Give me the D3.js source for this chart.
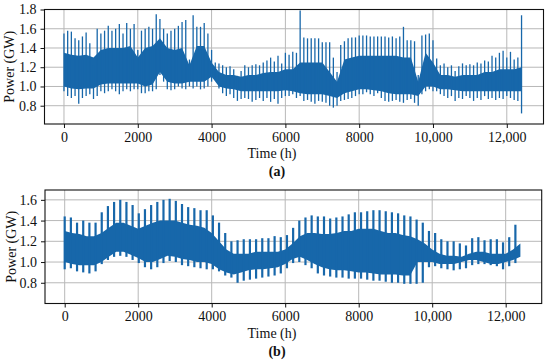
<!DOCTYPE html>
<html><head><meta charset="utf-8">
<script src="https://cdn.jsdelivr.net/npm/d3@7"></script>
<style>body{margin:0;background:#fff}svg{display:block}text{font-family:'Liberation Serif','Times New Roman',serif}</style>
</head><body>
<script>
// sampling steps (h) of the envelope arrays
const stepA = 100, stepB = 168, stepCore = 200;
const xTicks = [0, 2000, 4000, 6000, 8000, 10000, 12000];
const xTickLabels = ["0", "2000", "4000", "6000", "8000", "10,000", "12,000"];
const yTicksA = [0.8, 1.0, 1.2, 1.4, 1.6, 1.8];
const yTicksB = [0.8, 1.0, 1.2, 1.4, 1.6];

// panel (a): max / min per 100 h
const aMax = [1.55,1.58,1.57,1.50,1.48,1.52,1.56,1.45,1.22,1.60,
  1.55,1.58,1.63,1.58,1.60,1.65,1.55,1.66,1.60,1.65,
  1.38,1.58,1.60,1.62,1.60,1.75,1.70,1.60,1.55,1.58,
  1.60,1.63,1.67,1.69,1.28,1.74,1.62,1.62,1.66,1.55,
  1.38,1.25,1.24,1.22,1.20,1.21,1.18,1.11,1.16,1.22,
  1.20,1.22,1.23,1.22,1.25,1.27,1.30,1.26,1.32,1.24,
  1.35,1.33,1.36,1.35,1.79,1.51,1.50,1.50,1.50,1.50,
  1.46,1.46,1.46,1.30,1.15,1.43,1.47,1.50,1.51,1.51,
  1.53,1.53,1.53,1.52,1.52,1.52,1.52,1.52,1.51,1.52,
  1.50,1.52,1.62,1.48,1.48,1.47,1.12,1.53,1.54,1.55,
  1.48,1.29,1.22,1.24,1.20,1.22,1.16,1.21,1.24,1.22,
  1.23,1.22,1.25,1.24,1.27,1.26,1.32,1.30,1.35,1.37,
  1.30,1.36,1.28,1.30,1.74];
const aMin = [0.95,0.90,0.88,0.90,0.82,0.88,0.90,0.92,0.87,0.90,
  0.95,0.93,0.95,0.97,0.95,0.92,0.95,0.97,0.95,0.97,
  0.97,0.93,0.93,0.95,0.95,0.97,1.12,1.05,0.97,0.96,
  0.97,1.00,0.98,0.97,1.00,0.98,1.00,0.97,0.98,1.00,
  1.05,1.08,0.98,0.93,0.90,0.92,0.88,0.85,0.87,0.88,
  0.87,0.84,0.86,0.88,0.85,0.88,0.84,0.87,0.82,0.88,
  0.90,0.90,0.92,0.88,0.90,0.85,0.86,0.84,0.82,0.85,
  0.84,0.83,0.80,0.78,0.80,0.85,0.86,0.87,0.88,0.90,
  0.92,0.92,0.94,0.92,0.90,0.93,0.88,0.85,0.84,0.85,
  0.86,0.84,0.83,0.86,0.87,0.83,0.80,0.92,0.95,0.97,
  0.95,0.95,0.92,0.90,0.88,0.90,0.85,0.88,0.87,0.90,
  0.88,0.85,0.88,0.86,0.90,0.87,0.88,0.86,0.88,0.87,
  0.90,0.88,0.86,0.85,0.72];
// panel (a): dense core band per 200 h
const aCoreTop = [1.35,1.33,1.32,1.33,1.30,1.38,1.40,1.40,1.40,1.42,
  1.30,1.40,1.42,1.50,1.40,1.38,1.40,1.22,1.42,1.42,
  1.25,1.15,1.12,1.12,1.10,1.12,1.12,1.14,1.15,1.15,
  1.18,1.18,1.25,1.25,1.25,1.25,1.15,1.05,1.28,1.30,
  1.32,1.32,1.32,1.32,1.32,1.32,1.30,1.30,1.05,1.35,
  1.25,1.12,1.12,1.10,1.12,1.12,1.12,1.15,1.15,1.18,
  1.18,1.18,1.20];
const aCoreLow = [1.00,0.98,0.97,0.98,0.98,1.02,1.03,1.03,1.03,1.03,
  1.03,1.00,1.02,1.15,1.05,1.03,1.03,1.05,1.05,1.05,
  1.10,1.00,0.98,0.97,0.95,0.95,0.95,0.95,0.95,0.95,
  0.96,0.95,0.93,0.92,0.92,0.92,0.90,0.88,0.93,0.95,
  0.97,0.97,0.96,0.95,0.93,0.92,0.92,0.92,0.90,1.00,
  1.00,0.97,0.97,0.96,0.95,0.95,0.95,0.95,0.95,0.95,
  0.95,0.95,0.95];

// panel (b): weekly peak / trough (every 168 h)
const bMax = [1.44,1.43,1.38,1.40,1.38,1.38,1.48,1.54,1.58,1.60,
  1.58,1.55,1.47,1.51,1.55,1.58,1.60,1.61,1.59,1.56,
  1.53,1.52,1.50,1.50,1.45,1.38,1.28,1.20,1.21,1.22,
  1.22,1.22,1.23,1.23,1.25,1.24,1.26,1.33,1.40,1.43,
  1.45,1.44,1.44,1.42,1.43,1.44,1.46,1.48,1.48,1.49,
  1.50,1.50,1.49,1.48,1.47,1.45,1.44,1.41,1.38,1.30,
  1.28,1.22,1.20,1.20,1.18,1.16,1.23,1.24,1.21,1.22,
  1.22,1.19,1.24,1.36];
const bMin = [0.93,0.94,0.91,0.90,0.89,0.91,0.98,1.02,1.05,1.06,
  1.05,1.02,0.99,0.95,0.93,0.95,0.99,1.01,1.00,0.97,
  0.96,0.95,0.94,0.93,0.93,0.91,0.87,0.85,0.80,0.82,
  0.83,0.84,0.85,0.86,0.87,0.89,0.94,0.99,1.00,0.97,
  0.94,0.89,0.87,0.86,0.85,0.85,0.84,0.84,0.84,0.83,
  0.82,0.82,0.81,0.80,0.80,0.79,0.79,0.79,0.80,0.95,
  0.96,0.94,0.93,0.92,0.93,0.94,0.97,0.98,0.98,0.97,
  0.96,0.93,0.96,0.99];
// panel (b): dense core band per 200 h
const bCoreTop = [1.30,1.28,1.27,1.25,1.25,1.28,1.33,1.38,1.38,1.35,
  1.32,1.35,1.38,1.40,1.40,1.40,1.38,1.36,1.35,1.33,
  1.28,1.20,1.12,1.08,1.08,1.08,1.10,1.10,1.10,1.10,
  1.12,1.18,1.25,1.28,1.28,1.27,1.27,1.28,1.30,1.30,
  1.32,1.32,1.32,1.30,1.28,1.28,1.26,1.25,1.22,1.18,
  1.12,1.08,1.06,1.06,1.05,1.08,1.10,1.10,1.08,1.08,
  1.08,1.12,1.18];
const bCoreLow = [1.00,0.98,0.97,0.97,0.97,1.00,1.05,1.10,1.10,1.07,
  1.04,1.00,1.00,1.03,1.06,1.05,1.03,1.02,1.00,1.00,
  0.98,0.93,0.90,0.88,0.90,0.92,0.93,0.93,0.94,0.95,
  0.98,1.03,1.05,1.02,0.98,0.95,0.93,0.92,0.92,0.91,
  0.90,0.90,0.89,0.88,0.88,0.88,0.87,0.87,1.00,1.00,
  1.00,0.98,0.98,0.98,1.00,1.02,1.02,1.00,0.98,0.98,
  1.00,1.02,1.05];

const W = 550, H = 363, color = "#1767aa";
const svg = d3.select("body").append("svg").attr("width", W).attr("height", H);

function panel(cfg) {
  const x = d3.scaleLinear().domain(cfg.xDomain).range([cfg.left, cfg.right]);
  const y = d3.scaleLinear().domain(cfg.yDomain).range([cfg.bottom, cfg.top]);
  const g = svg.append("g");
  g.selectAll(".gx").data(xTicks).join("line")
    .attr("x1", d => x(d)).attr("x2", d => x(d)).attr("y1", cfg.top).attr("y2", cfg.bottom)
    .attr("stroke", "#b8b8b8").attr("stroke-width", 1);
  g.selectAll(".gy").data(cfg.yTicks).join("line")
    .attr("y1", d => y(d)).attr("y2", d => y(d)).attr("x1", cfg.left).attr("x2", cfg.right)
    .attr("stroke", "#b8b8b8").attr("stroke-width", 1);
  const core = cfg.coreTop.map((v, i) => ({t: i * stepCore, hi: v, lo: cfg.coreLow[i]}));
  g.append("path").datum(core)
    .attr("d", d3.area().x(d => x(d.t)).y0(d => y(d.lo)).y1(d => y(d.hi)))
    .attr("fill", color);
  const spikes = cfg.max.map((v, i) => ({t: i * cfg.step, hi: v, lo: cfg.min[i]}));
  g.selectAll(".sp").data(spikes).join("line")
    .attr("x1", d => x(d.t)).attr("x2", d => x(d.t))
    .attr("y1", d => y(d.lo)).attr("y2", d => y(d.hi))
    .attr("stroke", color).attr("stroke-width", cfg.sw);
  g.append("rect").attr("x", cfg.left).attr("y", cfg.top)
    .attr("width", cfg.right - cfg.left).attr("height", cfg.bottom - cfg.top)
    .attr("fill", "none").attr("stroke", "#111").attr("stroke-width", 1.1);
  const ax = g.append("g").attr("transform", `translate(0,${cfg.bottom})`)
    .call(d3.axisBottom(x).tickValues(xTicks).tickFormat((d, i) => xTickLabels[i]).tickSize(4).tickPadding(4));
  const ay = g.append("g").attr("transform", `translate(${cfg.left},0)`)
    .call(d3.axisLeft(y).tickValues(cfg.yTicks).tickFormat(d3.format(".1f")).tickSize(4).tickPadding(4));
  [ax, ay].forEach(a => {
    a.attr("font-family", null).attr("font-size", null);
    a.select(".domain").remove();
    a.selectAll("line").attr("stroke", "#111");
    a.selectAll("text").attr("font-size", 14).attr("fill", "#111");
  });
  g.append("text").attr("x", 272).attr("y", cfg.bottom + 34)
    .attr("text-anchor", "middle").attr("font-size", 14).attr("fill", "#111")
    .text("Time (h)");
  g.append("text").attr("transform", `translate(${cfg.ylx},${(cfg.top + cfg.bottom) / 2}) rotate(-90)`)
    .attr("text-anchor", "middle").attr("font-size", 14).attr("fill", "#111")
    .text("Power (GW)");
  g.append("text").attr("x", 277).attr("y", cfg.bottom + 52)
    .attr("text-anchor", "middle").attr("font-size", 14).attr("font-weight", "bold").attr("fill", "#111")
    .text(cfg.tag);
}

panel({left: 44.5, right: 543.5, top: 9.5, bottom: 124, xDomain: [-528, 12995], yDomain: [0.61, 1.80],
  yTicks: yTicksA, max: aMax, min: aMin, step: stepA, sw: 1.3,
  coreTop: aCoreTop, coreLow: aCoreLow, ylx: 14, tag: "(a)"});
panel({left: 45, right: 541.7, top: 190, bottom: 303.5, xDomain: [-536, 12980], yDomain: [0.60, 1.695],
  yTicks: yTicksB, max: bMax, min: bMin, step: stepB, sw: 2.2,
  coreTop: bCoreTop, coreLow: bCoreLow, ylx: 16, tag: "(b)"});
</script>
</body></html>
